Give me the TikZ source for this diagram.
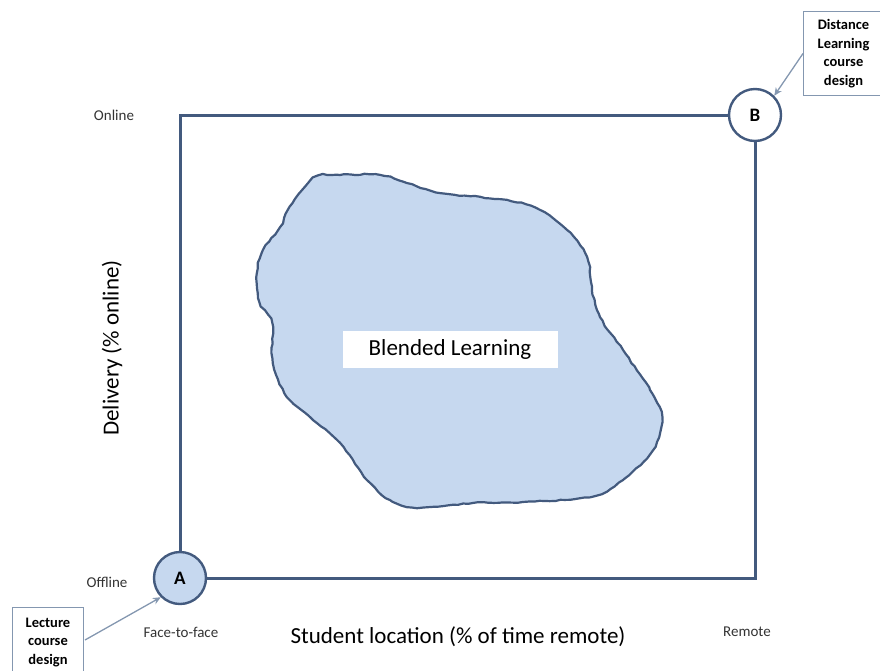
\documentclass[tikz,border=0pt]{standalone}
\usepackage{fontspec}
\setmainfont{Carlito}
\usetikzlibrary{arrows.meta,decorations.pathmorphing}
\definecolor{frameblue}{HTML}{435A7E}
\definecolor{blobfill}{HTML}{C6D8EF}
\definecolor{arrowgray}{HTML}{8497B0}
\definecolor{txtgray}{HTML}{333333}
\tikzset{
  frameline/.style={draw=frameblue, line width=3pt},
  corner/.style={circle, draw=frameblue, line width=2.4pt, minimum size=52pt, inner sep=0pt, font=\fontsize{19}{22}\selectfont\bfseries},
  callout/.style={draw=arrowgray, line width=1pt, fill=white, align=center, font=\fontsize{14.5}{18.5}\selectfont\bfseries, inner sep=3pt},
  pointer/.style={draw=arrowgray, line width=1.3pt, -{Stealth[length=8pt,width=7pt]}},
  small/.style={font=\fontsize{15}{17}\selectfont, text=txtgray},
  axis/.style={font=\fontsize{23}{26}\selectfont, text=black}
}
\begin{document}
\begin{tikzpicture}[x=1pt,y=-1pt]
\useasboundingbox (0,0) rectangle (880,670);
% frame
\coordinate (TL) at (180,115);
\coordinate (BR) at (755,578);
\node[corner, fill=blobfill] (A) at (180,578) {A};
\node[corner, fill=white] (B) at (755,115) {B};
\draw[frameline] (A.north) -- (TL) -- (B.west);
\draw[frameline] (A.east) -- (BR) -- (B.south);
% blob
\draw[frameblue, line width=2.2pt, fill=blobfill, line join=round,
      decorate, decoration={random steps, segment length=5pt, amplitude=0.7pt}]
 plot[smooth cycle, tension=0.55] coordinates {
 (313,178) (340,175) (380,175) (407,183) (440,193) (507,200) (540,210)
 (567,230) (587,257) (592,290) (600,317) (623,350) (650,390) (662,417)
 (653,450) (623,480) (590,497) (523,502) (473,503) (417,508) (390,500)
 (367,480) (340,443) (317,423) (287,397) (273,363) (272,323) (260,303)
 (257,273) (263,250) (280,227) (290,207)};
\node[fill=white, minimum width=215pt, minimum height=37pt, font=\fontsize{23}{26}\selectfont] (bl) at (450,349) {Blended Learning};
% labels
\node[small] (on) at (114,115) {Online};
\node[small] (off) at (107,582) {Offline};
\node[small] (ff) at (181,632) {Face-to-face};
\node[small] (rm) at (747,632) {Remote};
\node[axis] (xl) at (458,637) {Student location (\% of time remote)};
\node[axis, rotate=90] (yl) at (112,348) {Delivery (\% online)};
% callouts
\node[callout, minimum width=80pt, minimum height=84pt, anchor=north west] (cb) at (803,11) {Distance\\Learning\\course\\design};
\node[callout, minimum width=71pt, minimum height=70pt, anchor=north west] (ca) at (12,607) {Lecture\\course\\design};
\draw[pointer] (cb.west) -- (B.north east);
\draw[pointer] (85,640) -- (A.south west);
\end{tikzpicture}
\end{document}
